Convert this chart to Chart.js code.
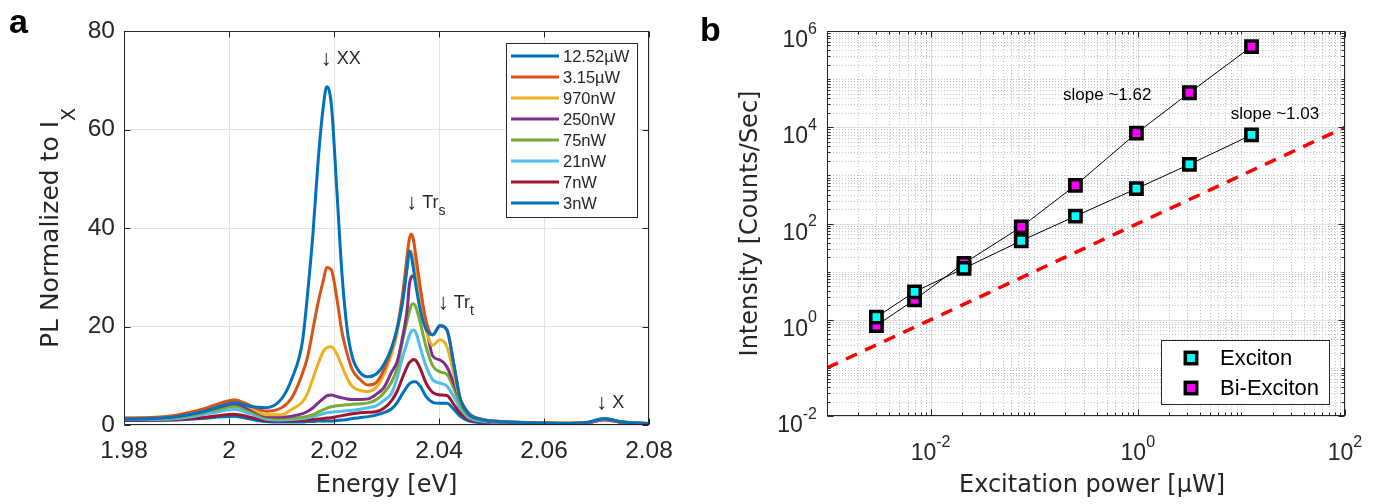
<!DOCTYPE html>
<html>
<head>
<meta charset="utf-8">
<script src="https://cdn.jsdelivr.net/npm/chart.js@4.4.1/dist/chart.umd.min.js"></script>
<style>
  html, body { margin: 0; padding: 0; background: #fff; }
  #wrap { position: relative; width: 1386px; height: 504px; overflow: hidden; }
  #spec { position: absolute; left: 0; top: 0; }
  #power { position: absolute; left: 700px; top: 0; }
</style>
</head>
<body>
<div id="wrap">
  <canvas id="spec" width="690" height="504"></canvas>
  <canvas id="power" width="686" height="504"></canvas>
</div>
<script>
// ---- panel a: PL spectra ----
const energy = [1.980, 1.985, 1.990, 1.995, 1.998, 2.001, 2.004, 2.007, 2.010, 2.012, 2.014, 2.015, 2.016, 2.017, 2.018, 2.0186,
  2.0195, 2.0205, 2.0215, 2.0225, 2.0235, 2.025, 2.0265, 2.028, 2.0295, 2.031, 2.032, 2.033, 2.034, 2.0343, 2.0347, 2.0351,
  2.0355, 2.0365, 2.0375, 2.0388, 2.0402, 2.0415, 2.0428, 2.044, 2.0455, 2.048, 2.052, 2.058, 2.064, 2.068, 2.0715, 2.075, 2.08];

const pl12520nW = [1.2, 1.3, 1.7, 2.7, 3.7, 4.5, 3.8, 3.5, 5.3, 9.5, 17, 27, 39, 54, 65, 68.7,
  65, 48.4, 31, 19.5, 13.8, 10.6, 9.8, 10.3, 12.3, 15.8, 19.5, 24.5, 32.5, 35.3, 34.5, 32,
  29, 23, 19.5, 18.3, 20.2, 19.3, 12.5, 5.5, 2.4, 1.2, 0.7, 0.4, 0.3, 0.5, 1.3, 0.6, 0.3];
const pl3150nW = [1.4, 1.5, 2.0, 3.2, 4.3, 5.1, 4.0, 2.8, 3.5, 5.6, 10.5, 14, 19.5, 25, 29.5, 32,
  31.5, 26, 19, 14.5, 11.2, 9.2, 8.1, 8.6, 11.2, 15.5, 19.5, 26, 35, 37.5, 38.8, 37.8,
  35, 27.5, 21.3, 18.3, 20.1, 19.4, 12.5, 5.5, 2.4, 1.2, 0.7, 0.5, 0.4, 0.5, 1.2, 0.6, 0.3];
const pl970nW = [1.4, 1.5, 2.0, 3.2, 4.3, 5.1, 3.6, 2.1, 2.1, 3.2, 4.7, 6.5, 9.5, 12.5, 15, 15.7,
  15.9, 14.5, 12, 9.5, 7.8, 7.0, 6.8, 7.6, 10.3, 14.5, 18.5, 25, 33, 35, 35.3, 34,
  31.5, 24.5, 19.5, 16.2, 17.3, 15.9, 10.5, 5.2, 2.4, 1.2, 0.7, 0.5, 0.4, 0.5, 1.2, 0.6, 0.3];
const pl250nW = [1.2, 1.3, 1.7, 2.8, 3.6, 4.3, 3.2, 1.8, 1.6, 1.8, 2.3, 2.8, 3.5, 4.5, 5.4, 5.9,
  6.1, 5.8, 5.5, 5.3, 5.2, 5.2, 5.3, 6.2, 7.6, 10.8, 12.8, 17.5, 24, 28, 30, 30.3,
  29.5, 26, 20.5, 14, 13.2, 11.8, 8.5, 5.3, 2.6, 1.1, 0.6, 0.4, 0.3, 0.4, 1.1, 0.5, 0.3];
const pl75nW = [1.2, 1.2, 1.5, 2.5, 3.2, 3.8, 2.8, 1.5, 1.3, 1.4, 1.6, 1.8, 2.1, 2.6, 3.1, 3.4,
  3.7, 3.9, 4.0, 4.1, 4.2, 4.3, 4.5, 5.1, 6.5, 8.8, 11.5, 16.8, 21.5, 22.8, 24.3, 24.6,
  24.2, 20.5, 16, 12, 10.8, 10.3, 7.5, 4.3, 2.0, 1.0, 0.6, 0.4, 0.3, 0.4, 1.1, 0.5, 0.3];
const pl21nW = [1.1, 1.1, 1.3, 2.1, 2.7, 3.2, 2.3, 1.2, 1.0, 1.1, 1.3, 1.5, 1.7, 2.0, 2.3, 2.5,
  2.6, 2.7, 2.8, 2.9, 3.0, 3.2, 3.5, 3.9, 5.0, 6.5, 9.5, 13.5, 17, 18, 19, 19.3,
  19, 15.5, 12, 9.2, 8.5, 7.9, 5.8, 3.5, 1.6, 0.8, 0.5, 0.4, 0.3, 0.4, 1.0, 0.5, 0.3];
const pl7nW = [1.0, 1.0, 1.1, 1.5, 1.9, 2.2, 1.6, 0.9, 0.8, 0.8, 0.9, 1.0, 1.1, 1.2, 1.3, 1.4,
  1.5, 1.7, 1.9, 2.1, 2.3, 2.5, 2.6, 2.7, 3.4, 5.0, 6.8, 9.5, 12, 12.6, 13, 13.3,
  13.2, 11.3, 8.6, 6.6, 6.1, 6.0, 4.2, 2.5, 1.2, 0.7, 0.5, 0.4, 0.3, 0.4, 1.0, 0.5, 0.3];
const pl3nW = [0.9, 0.9, 1.0, 1.3, 1.6, 1.8, 1.2, 0.7, 0.6, 0.6, 0.6, 0.7, 0.7, 0.8, 0.8, 0.8,
  0.8, 0.9, 1.0, 1.1, 1.3, 1.5, 1.7, 2.0, 2.5, 3.3, 4.5, 6.3, 7.9, 8.3, 8.6, 8.8,
  8.8, 7.8, 5.8, 4.6, 4.4, 4.4, 3.2, 1.8, 0.9, 0.5, 0.4, 0.3, 0.3, 0.4, 1.2, 0.5, 0.2];

const spectra = [pl12520nW, pl3150nW, pl970nW, pl250nW, pl75nW, pl21nW, pl7nW, pl3nW];
const spectraLabels = ['12.52\u00b5W', '3.15\u00b5W', '970nW', '250nW', '75nW', '21nW', '7nW', '3nW'];
const spectraColors = ['#0072BD', '#D95319', '#EDB120', '#7E2F8E', '#77AC30', '#4DBEEE', '#A2142F', '#0072BD'];
const energyTicks = [1.98, 2, 2.02, 2.04, 2.06, 2.08];
const plTicks = [0, 20, 40, 60, 80];
const peakNames = [['XX', ''], ['Tr', 's'], ['Tr', 't'], ['X', '']];

// ---- panel b: power dependence ----
const powerUW = [0.003, 0.007, 0.021, 0.075, 0.25, 0.97, 3.15, 12.52];
const excitonCounts = [1.13, 3.8, 11.7, 43.8, 142, 530, 1690, 6940];
const biexcitonCounts = [0.76, 2.6, 14.9, 85, 621, 7520, 52100, 474000];
const guidePower = [0.001, 100];
const guideCounts = [0.1, 10000];
const powerDecades = [-3, -2, -1, 0, 1, 2];
const countDecades = [-2, -1, 0, 1, 2, 3, 4, 5, 6];
const powerTickExp = [-2, 0, 2];
const countTickExp = [-2, 0, 2, 4, 6];
const slopeNotes = ['slope ~1.62', 'slope ~1.03'];

const TXT = '#262626';
const SANS = "'Liberation Sans', Arial, sans-serif";
const WIDE = "'DejaVu Sans', sans-serif";
Chart.defaults.font.family = SANS;
Chart.defaults.color = TXT;
Chart.defaults.animation = false;

// draws a run of text pieces (for sub/superscripts), returns width
function drawParts(ctx, parts, x, y, align) {
  let w = 0;
  parts.forEach(p => { ctx.font = p.font; p.w = ctx.measureText(p.t).width; w += p.w; });
  let cx = align === 'center' ? x - w / 2 : align === 'right' ? x - w : x;
  ctx.textAlign = 'left';
  ctx.textBaseline = 'alphabetic';
  parts.forEach(p => { ctx.font = p.font; ctx.fillText(p.t, cx, y + (p.dy || 0)); cx += p.w; });
  return w;
}

function crisp(v) { return Math.round(v) + 0.5; }

const specDecor = {
  id: 'specDecor',
  afterDraw(chart) {
    const ctx = chart.ctx, a = chart.chartArea, xs = chart.scales.x, ys = chart.scales.y;
    ctx.save();
    const L = crisp(a.left), R = crisp(a.right - 1), T = crisp(a.top), B = crisp(a.bottom - 1);
    ctx.strokeStyle = TXT;
    ctx.lineWidth = 1;
    ctx.strokeRect(L, T, R - L, B - T);
    ctx.beginPath();
    energyTicks.forEach(v => {
      const p = crisp(xs.getPixelForValue(v));
      ctx.moveTo(p, B); ctx.lineTo(p, B - 6);
      ctx.moveTo(p, T); ctx.lineTo(p, T + 6);
    });
    plTicks.forEach(v => {
      const p = crisp(ys.getPixelForValue(v));
      ctx.moveTo(L, p); ctx.lineTo(L + 6, p);
      ctx.moveTo(R, p); ctx.lineTo(R - 6, p);
    });
    ctx.stroke();

    // legend
    ctx.fillStyle = '#fff';
    ctx.fillRect(506, 43, 131, 174);
    ctx.strokeRect(506.5, 43.5, 131, 174);
    spectraLabels.forEach((lab, i) => {
      const y = 56 + i * 21;
      ctx.strokeStyle = spectraColors[i];
      ctx.lineWidth = 3;
      ctx.beginPath(); ctx.moveTo(511, y); ctx.lineTo(559, y); ctx.stroke();
      ctx.fillStyle = TXT;
      ctx.font = '16.5px ' + SANS;
      ctx.textAlign = 'left'; ctx.textBaseline = 'middle';
      ctx.fillText(lab, 563, y + 1);
    });

    // peak labels
    const anchors = [[2.0185, 74.6], [2.0348, 45.3], [2.0408, 25.1], [2.071, 4.7]];
    ctx.fillStyle = TXT;
    peakNames.forEach((nm, i) => {
      const px = xs.getPixelForValue(anchors[i][0]);
      const py = ys.getPixelForValue(anchors[i][1]);
      ctx.font = '22px ' + SANS;
      const aw = ctx.measureText('\u2193').width;
      const parts = [{ t: '\u2193', font: '22px ' + SANS, dy: 1 }, { t: ' ' + nm[0], font: '18px ' + SANS }];
      if (nm[1]) parts.push({ t: nm[1], font: '14px ' + SANS, dy: 7 });
      drawParts(ctx, parts, px - aw / 2, py + 6.5, 'left');
    });

    // axis titles and panel letter
    ctx.fillStyle = TXT;
    drawParts(ctx, [{ t: 'Energy [eV]', font: '24px ' + WIDE }], (a.left + a.right) / 2, 492, 'center');
    ctx.save();
    ctx.translate(58, (a.top + a.bottom) / 2);
    ctx.rotate(-Math.PI / 2);
    drawParts(ctx, [{ t: 'PL Normalized to I', font: '25px ' + WIDE }, { t: 'X', font: '19px ' + WIDE, dy: 17 }], 0, 0, 'center');
    ctx.restore();
    ctx.fillStyle = '#000';
    drawParts(ctx, [{ t: 'a', font: 'bold 34px ' + SANS }], 9, 33, 'left');
    ctx.restore();
  }
};

new Chart(document.getElementById('spec'), {
  type: 'line',
  data: {
    datasets: spectra.map((vals, i) => ({
      label: spectraLabels[i],
      data: energy.map((e, j) => ({ x: e, y: vals[j] })),
      borderColor: spectraColors[i],
      borderWidth: 3,
      pointRadius: 0,
      cubicInterpolationMode: 'monotone',
      fill: false
    }))
  },
  options: {
    responsive: false,
    layout: { padding: { left: 0, right: 41, top: 31, bottom: 0 } },
    plugins: { legend: { display: false }, tooltip: { enabled: false } },
    scales: {
      x: {
        type: 'linear', min: 1.98, max: 2.08,
        afterBuildTicks: s => { s.ticks = energyTicks.map(v => ({ value: v })); },
        afterFit: s => { s.height = 79; },
        ticks: { font: { size: 24.5 }, color: TXT, padding: 12, maxRotation: 0, autoSkip: false,
          callback: v => String(Number(v.toFixed(2))) },
        grid: { color: '#e3e3e3', drawTicks: false },
        border: { display: false }
      },
      y: {
        type: 'linear', min: 0, max: 80,
        afterBuildTicks: s => { s.ticks = plTicks.map(v => ({ value: v })); },
        afterFit: s => { s.width = 124; },
        ticks: { font: { size: 24.5 }, color: TXT, padding: 9 },
        grid: { color: '#e3e3e3', drawTicks: false },
        border: { display: false }
      }
    }
  },
  plugins: [specDecor]
});

// ---- panel b ----
const powerDecor = {
  id: 'powerDecor',
  beforeDatasetsDraw(chart) {
    const ctx = chart.ctx, a = chart.chartArea, xs = chart.scales.x, ys = chart.scales.y;
    ctx.save();
    ctx.lineWidth = 1;
    const line = (x1, y1, x2, y2, major) => {
      ctx.strokeStyle = major ? '#e0e0e0' : '#c4c4c4';
      ctx.setLineDash(major ? [] : [1, 2]);
      ctx.beginPath(); ctx.moveTo(x1, y1); ctx.lineTo(x2, y2); ctx.stroke();
    };
    powerDecades.forEach(e => {
      for (let k = 1; k <= 9; k++) {
        const v = k * Math.pow(10, e);
        if (v > 100.0001) break;
        const p = crisp(xs.getPixelForValue(v));
        line(p, a.top, p, a.bottom, k === 1 && powerTickExp.includes(e));
      }
    });
    countDecades.forEach(e => {
      for (let k = 1; k <= 9; k++) {
        const v = k * Math.pow(10, e);
        if (v > 1e6 * 1.0001) break;
        const p = crisp(ys.getPixelForValue(v));
        line(a.left, p, a.right, p, k === 1 && countTickExp.includes(e));
      }
    });
    ctx.restore();
  },
  afterDatasetsDraw(chart) {
    const ctx = chart.ctx, a = chart.chartArea, xs = chart.scales.x, ys = chart.scales.y;
    ctx.save();
    const L = crisp(a.left), R = crisp(a.right - 1), T = crisp(a.top), B = crisp(a.bottom - 1);
    ctx.strokeStyle = TXT; ctx.lineWidth = 1; ctx.setLineDash([]);
    ctx.strokeRect(L, T, R - L, B - T);
    ctx.beginPath();
    powerDecades.forEach(e => {
      for (let k = 1; k <= 9; k++) {
        const v = k * Math.pow(10, e);
        if (v > 100.0001) break;
        const p = crisp(xs.getPixelForValue(v));
        const len = (k === 1 && powerTickExp.includes(e)) ? 6 : 3;
        ctx.moveTo(p, B); ctx.lineTo(p, B - len);
        ctx.moveTo(p, T); ctx.lineTo(p, T + len);
      }
    });
    countDecades.forEach(e => {
      for (let k = 1; k <= 9; k++) {
        const v = k * Math.pow(10, e);
        if (v > 1e6 * 1.0001) break;
        const p = crisp(ys.getPixelForValue(v));
        const len = (k === 1 && countTickExp.includes(e)) ? 6 : 3;
        ctx.moveTo(L, p); ctx.lineTo(L + len, p);
        ctx.moveTo(R, p); ctx.lineTo(R - len, p);
      }
    });
    ctx.stroke();

    // tick labels 10^n
    ctx.fillStyle = TXT;
    powerTickExp.forEach(e => {
      const px = xs.getPixelForValue(Math.pow(10, e));
      drawParts(ctx, [{ t: '10', font: '23px ' + SANS }, { t: String(e), font: '16px ' + SANS, dy: -13 }], px, a.bottom + 44, 'center');
    });
    countTickExp.forEach(e => {
      const py = ys.getPixelForValue(Math.pow(10, e));
      drawParts(ctx, [{ t: '10', font: '23px ' + SANS }, { t: String(e), font: '16px ' + SANS, dy: -13.4 }], a.left - 10, py + 16, 'right');
    });

    // slope notes
    const notePos = [[0.19, 47000], [7.9, 19000]];
    slopeNotes.forEach((s, i) => {
      ctx.font = '17px ' + SANS;
      ctx.textAlign = 'left'; ctx.textBaseline = 'middle';
      ctx.fillStyle = '#000';
      ctx.fillText(s, xs.getPixelForValue(notePos[i][0]), ys.getPixelForValue(notePos[i][1]));
    });

    // legend
    ctx.fillStyle = '#fff';
    ctx.fillRect(461, 340, 168, 64);
    ctx.strokeStyle = TXT; ctx.lineWidth = 1;
    ctx.strokeRect(461.5, 340.5, 168, 64);
    const ds = chart.data.datasets;
    [0, 1].forEach(i => {
      const y = 358 + i * 30;
      ctx.fillStyle = ds[i].backgroundColor;
      ctx.fillRect(491 - 5.7, y - 5.7, 11.4, 11.4);
      ctx.strokeStyle = '#000'; ctx.lineWidth = 3.5;
      ctx.strokeRect(491 - 5.7, y - 5.7, 11.4, 11.4);
      ctx.fillStyle = '#000';
      ctx.font = '22px ' + SANS;
      ctx.textAlign = 'left'; ctx.textBaseline = 'middle';
      ctx.fillText(ds[i].label, 520, y + 1);
    });

    // axis titles, panel letter
    ctx.fillStyle = TXT;
    drawParts(ctx, [{ t: 'Excitation power [\u00b5W]', font: '24px ' + WIDE }], 392, 492, 'center');
    ctx.save();
    ctx.translate(57, (a.top + a.bottom) / 2);
    ctx.rotate(-Math.PI / 2);
    drawParts(ctx, [{ t: 'Intensity [Counts/Sec]', font: '24px ' + WIDE }], 0, 0, 'center');
    ctx.restore();
    ctx.fillStyle = '#000';
    drawParts(ctx, [{ t: 'b', font: 'bold 34px ' + SANS }], 0, 41, 'left');
    ctx.restore();
  }
};

new Chart(document.getElementById('power'), {
  type: 'scatter',
  data: {
    datasets: [
      {
        label: 'Exciton',
        data: powerUW.map((p, i) => ({ x: p, y: excitonCounts[i] })),
        showLine: true, borderColor: '#000', borderWidth: 1,
        backgroundColor: '#00FFFF',
        pointStyle: 'rect', pointRadius: 8, pointBorderWidth: 3.5, pointBorderColor: '#000', pointBackgroundColor: '#00FFFF'
      },
      {
        label: 'Bi-Exciton',
        data: powerUW.map((p, i) => ({ x: p, y: biexcitonCounts[i] })),
        showLine: true, borderColor: '#000', borderWidth: 1,
        backgroundColor: '#FF00FF',
        pointStyle: 'rect', pointRadius: 8, pointBorderWidth: 3.5, pointBorderColor: '#000', pointBackgroundColor: '#FF00FF'
      },
      {
        label: 'guide',
        data: guidePower.map((p, i) => ({ x: p, y: guideCounts[i] })),
        showLine: true, borderColor: '#FF0000', borderWidth: 3.5, borderDash: [12, 9],
        pointRadius: 0
      }
    ]
  },
  options: {
    responsive: false,
    layout: { padding: { left: 0, right: 41, top: 31, bottom: 0 } },
    plugins: { legend: { display: false }, tooltip: { enabled: false } },
    scales: {
      x: {
        type: 'logarithmic', min: 0.001, max: 100,
        afterFit: s => { s.height = 88; },
        ticks: { display: false },
        grid: { display: false },
        border: { display: false }
      },
      y: {
        type: 'logarithmic', min: 0.01, max: 1e6,
        afterFit: s => { s.width = 127; },
        ticks: { display: false },
        grid: { display: false },
        border: { display: false }
      }
    }
  },
  plugins: [powerDecor]
});
</script>
</body>
</html>
